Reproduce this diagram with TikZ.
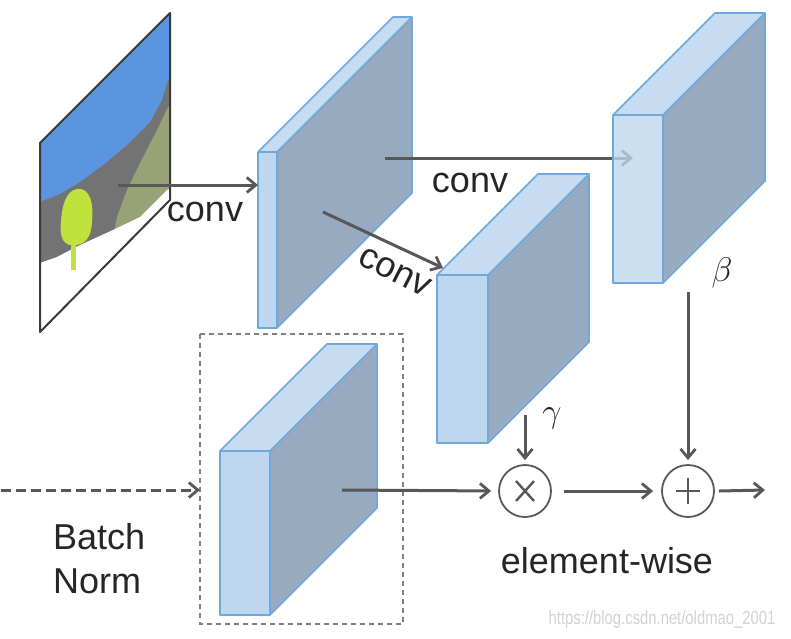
\documentclass[tikz,border=0pt]{standalone}
\usepackage{fontspec}
\setmainfont{Liberation Sans}
\usetikzlibrary{arrows.meta}
\definecolor{frontc}{HTML}{BDD7EE}
\definecolor{topc}{HTML}{C7DCF0}
\definecolor{sidec}{HTML}{97AABF}
\definecolor{edgec}{HTML}{6FA8DC}
\definecolor{arrc}{HTML}{585858}
\definecolor{skyc}{HTML}{5B95DF}
\definecolor{grayc}{HTML}{737373}
\definecolor{olivec}{HTML}{97A377}
\definecolor{treec}{HTML}{BFE23D}
\definecolor{framec}{HTML}{3A3A3A}
\definecolor{wmc}{HTML}{D2D2D2}
\newcommand\fmapbox[6]{% x y w h d frontopacity
  \fill[sidec] ({#1+#3},{#2}) -- ({#1+#3+#5},{#2-#5}) -- ({#1+#3+#5},{#2+#4-#5}) -- ({#1+#3},{#2+#4}) -- cycle;
  \fill[topc] (#1,#2) -- ({#1+#5},{#2-#5}) -- ({#1+#3+#5},{#2-#5}) -- ({#1+#3},{#2}) -- cycle;
  \fill[frontc, fill opacity=#6] (#1,#2) rectangle ({#1+#3},{#2+#4});
  \draw[boxedge] (#1,#2) -- ({#1+#5},{#2-#5}) -- ({#1+#3+#5},{#2-#5}) -- ({#1+#3+#5},{#2+#4-#5}) -- ({#1+#3},{#2+#4}) -- (#1,{#2+#4}) -- cycle
    (#1,#2) -- ({#1+#3},{#2}) -- ({#1+#3+#5},{#2-#5})
    ({#1+#3},{#2}) -- ({#1+#3},{#2+#4});
}
\tikzset{
  boxedge/.style={draw=edgec, line width=1.6pt, line join=round},
  flow/.style={draw=arrc, line width=3pt, -{Straight Barb[length=9pt,width=15pt,line width=2.8pt]}},
  dflow/.style={draw=arrc, line width=3pt, dash pattern=on 10pt off 5pt, -{Straight Barb[length=9pt,width=15pt,line width=2.8pt]}},
  lbl/.style={inner sep=0pt, text=black!85, font=\fontsize{36}{44}\selectfont},
  glbl/.style={inner sep=0pt, text=black!85, font=\fontsize{20.74}{24}\selectfont},
  opnode/.style={circle, draw=arrc, line width=1.8pt, minimum size=52pt, inner sep=0pt},
  opsym/.style={draw=arrc, line width=2.4pt},
}
\begin{document}
\begin{tikzpicture}[x=1pt,y=-1pt]
\fill[white] (0,0) rectangle (791,638);
\useasboundingbox (0,0) rectangle (791,638);

% segmentation map
\begin{scope}
\clip (40,143) -- (170,13) -- (170,200) -- (40,332) -- cycle;
\fill[grayc] (35,0) rectangle (175,340);
\fill[skyc] (35,0) -- (175,0) -- (175,76) -- (168,80) -- (162,100) -- (150,122) -- (127,145) -- (103,165) -- (80,182) -- (60,194) -- (40,202) -- (35,202) -- cycle;
\fill[olivec] (175,104) -- (168,107) -- (157,130) -- (140,163) -- (127,190) -- (117,217) -- (112,245) -- (175,245) -- cycle;
\fill[white] (35,264) -- (40,263) -- (57,257) -- (80,245) -- (113,230) -- (140,217) -- (167,190) -- (175,187) -- (175,340) -- (35,340) -- cycle;
\fill[treec] (77,189) .. controls (90,187) and (94,204) .. (92,222) .. controls (91,238) and (85,244) .. (76,245) .. controls (64,247) and (59,238) .. (61,222) .. controls (62,205) and (66,191) .. (77,189) -- cycle;
\fill[treec] (71,238) rectangle (76,270);
\end{scope}
\draw[framec, line width=2pt, line join=round] (40,143) -- (170,13) -- (170,200) -- (40,332) -- cycle;

% first feature map
\fmapbox{258}{152}{19}{176}{135}{1}

\coordinate (s1) at (118,185);
\coordinate (e1) at (258,185);
\draw[flow] (s1) -- (e1);
\node[lbl] (conv1) at (205,212) {conv};

\coordinate (s2) at (385,158);
\coordinate (e2) at (633,158);
\draw[flow] (s2) -- (e2);
\node[lbl] (conv2) at (470,183) {conv};

% beta map
\fmapbox{613}{115}{50}{168}{102}{0.78}

\coordinate (s3) at (323,212);
\coordinate (e3) at (443,268);
\node[lbl, rotate=-27] (conv3) at (395,272) {conv};

% gamma map
\fmapbox{437}{275}{51}{168}{101}{1}
\draw[flow] (s3) -- (e3);

\node[glbl] (gam) at (552,418) {\scalebox{1.65}{$\gamma$}};
\node[glbl] (bet) at (722,273) {\scalebox{1.65}{$\beta$}};

% batch norm map
\fmapbox{220}{451}{50}{164}{107}{1}
\draw[draw=black!50, line width=1.3pt, dash pattern=on 5pt off 4pt] (200,334) rectangle (403,624);

\node[opnode] (mul) at (525,491) {};
\node[opnode] (add) at (688,491) {};
\draw[opsym] ([shift={(-9,-10)}]mul.center) -- ([shift={(9,10)}]mul.center)
             ([shift={(-9,10)}]mul.center) -- ([shift={(9,-10)}]mul.center);
\draw[opsym] ([xshift=-12]add.center) -- ([xshift=12]add.center)
             ([yshift=-13]add.center) -- ([yshift=13]add.center);

\coordinate (dstart) at (1,490);
\coordinate (dend) at (200,490);
\draw[dflow] (dstart) -- (dend);

\coordinate (bnout) at (342,490);
\draw[flow, shorten >=7pt] (bnout) -- (mul.west);
\draw[flow] ([xshift=12]mul.east) -- ([xshift=-8]add.west);
\coordinate (outend) at (765,490);
\draw[flow] ([xshift=4]add.east) -- (outend);

\coordinate (gs) at (525,415);
\draw[flow, shorten >=4pt] (gs) -- (mul.north);
\coordinate (bs) at (688,292);
\draw[flow, shorten >=4pt] (bs) -- (add.north);

\node[lbl, align=left, anchor=north west] (bn) at (53,523) {Batch\\Norm};
\node[lbl, anchor=base] (ew) at (607,573) {element-wise};

\node[inner sep=0pt, text=wmc, font=\fontsize{19}{21}\selectfont] (wm) at (662,620) {\scalebox{0.78}[1]{https://blog.csdn.net/oldmao\_2001}};
\end{tikzpicture}
\end{document}
